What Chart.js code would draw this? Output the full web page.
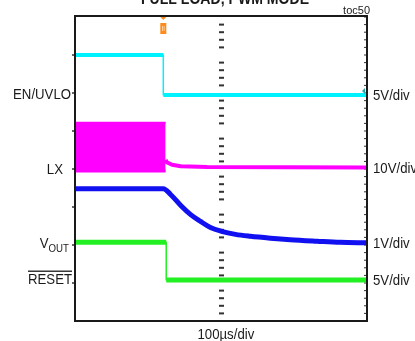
<!DOCTYPE html>
<html>
<head>
<meta charset="UTF-8" />
<title>toc50</title>
<script src="https://cdn.jsdelivr.net/npm/chart.js"></script>
<style>
  *{box-sizing:border-box}
  body{margin:0;background:#fff;}
  #wrap{width:415px;height:341px;}
</style>
</head>
<body>
<div id="wrap"><canvas id="scope" width="415" height="341"></canvas></div>
<script>
  // time axis in divisions (100us/div), voltage in screen divisions
  const enT = [0, 3.0, 3.0, 10];
  const enV = [6.0, 6.0, 4.95, 4.95];

  const lxBandT = [0, 3.08];
  const lxBandHi = [4.22, 4.22];
  const lxBandLo = [2.95, 2.95];
  const lxTailT = [3.08, 3.12, 3.3, 3.6, 4.5, 10];
  const lxTailV = [3.24, 3.18, 3.11, 3.07, 3.05, 3.04];

  const voutT = [0, 3.0, 3.25, 3.6, 3.94, 4.28, 4.62, 5.0, 5.48, 5.99, 6.68, 7.36, 8.29, 9.08, 10];
  const voutV = [2.48, 2.48, 2.33, 2.04, 1.80, 1.62, 1.46, 1.36, 1.28, 1.23, 1.18, 1.14, 1.10, 1.07, 1.06];

  const rstT = [0, 3.1, 3.1, 10];
  const rstV = [1.07, 1.07, 0.08, 0.08];

  const leftLabels = ["EN/UVLO", "LX", "VOUT", "RESET"];
  const leftLevels = [5.0, 3.02, 1.07, 0.13];
  const rightLabels = ["5V/div", "10V/div", "1V/div", "5V/div"];
  const rightLevels = [4.97, 3.05, 1.07, 0.1];
  const trigT = 3.0;

  const zip = (t, v) => t.map((x, i) => ({x: x, y: v[i]}));
  const edgeWidth = (w) => ({borderWidth: c => c.p0.parsed.x === c.p1.parsed.x ? 1.5 : w});

  function txt(ctx, s, x, y, align, size, weight, sx){
    ctx.save();
    ctx.translate(x, y);
    ctx.scale(sx || 0.88, 1);
    ctx.font = (weight || "normal") + " " + size + "px 'Liberation Sans', Arial, sans-serif";
    ctx.textAlign = align;
    ctx.textBaseline = "alphabetic";
    ctx.fillStyle = "#1a1a1a";
    ctx.fillText(s, 0, 0);
    ctx.restore();
  }
  function tw(ctx, s, size){
    ctx.save();
    ctx.font = size + "px 'Liberation Sans', Arial, sans-serif";
    const w = ctx.measureText(s).width * 0.88;
    ctx.restore();
    return w;
  }

  const scopeDeco = {
    id: "scopeDeco",
    beforeDatasetsDraw(chart){
      const {ctx, chartArea: a, scales: {x, y}} = chart;
      ctx.save();
      ctx.fillStyle = "#333";
      const cx = x.getPixelForValue(5);
      for (let k = -5; k <= 35; k++) {
        const py = y.getPixelForValue(k / 5);
        if (k % 5 !== 0) ctx.fillRect(cx - 2.5, py - 1, 5, 2);
        // small graticule ticks inside the right border
        ctx.fillRect(a.right - 3, py - 0.5, 2, 1);
      }
      // left axis ticks
      for (let k = 0; k <= 6; k++) {
        const py = y.getPixelForValue(k);
        ctx.fillRect(a.left - 4, py - 0.75, 3, 1.5);
      }
      ctx.restore();
    },
    afterDatasetsDraw(chart){
      const {ctx, chartArea: a, scales: {x, y}} = chart;
      ctx.save();
      ctx.strokeStyle = "#1a1a1a";
      ctx.lineWidth = 2;
      ctx.strokeRect(a.left - 1, a.top - 1, a.right - a.left + 1, a.bottom - a.top + 1);

      // trigger marker
      const tx = x.getPixelForValue(trigT);
      ctx.fillStyle = "#ff8c1a";
      ctx.beginPath();
      ctx.moveTo(tx - 3, a.top);
      ctx.lineTo(tx + 3, a.top);
      ctx.lineTo(tx, a.top + 3);
      ctx.closePath();
      ctx.fill();
      ctx.fillRect(tx - 3, a.top + 6, 6, 11);
      ctx.fillStyle = "#fff";
      ctx.fillRect(tx - 1, a.top + 9, 2, 5);
      ctx.fillStyle = "#ff8c1a";
      ctx.fillRect(tx - 0.5, a.top + 9, 1, 5);

      // EN channel level marker
      const ey = y.getPixelForValue(5.05);
      ctx.fillStyle = "#2aa6a6";
      ctx.beginPath();
      ctx.moveTo(a.right - 5, ey);
      ctx.lineTo(a.right - 2, ey - 3);
      ctx.lineTo(a.right - 2, ey + 3);
      ctx.closePath();
      ctx.fill();
      ctx.restore();

      // left channel names
      const rx = [71, 63, 69, 72];
      leftLabels.forEach((s, i) => {
        const py = y.getPixelForValue(leftLevels[i]) + 5.5;
        if (s === "VOUT") {
          const wOut = tw(ctx, "OUT", 11);
          txt(ctx, "OUT", rx[i], py + 4, "right", 11);
          txt(ctx, "V", rx[i] - wOut, py, "right", 15);
        } else {
          txt(ctx, s, rx[i], py, "right", 15);
          if (s === "RESET") {
            const w = tw(ctx, s, 15);
            ctx.save();
            ctx.fillStyle = "#1a1a1a";
            ctx.fillRect(rx[i] - w, py - 13, w, 1.3);
            ctx.restore();
          }
        }
      });
      // right scale factors
      rightLabels.forEach((s, i) => {
        const py = y.getPixelForValue(rightLevels[i]) + 5.5;
        txt(ctx, s, a.right + 6, py, "left", 15);
      });
      txt(ctx, "100\u00b5s/div", x.getPixelForValue(5.15), 339, "center", 15);
      txt(ctx, "FULL LOAD, PWM MODE", 225, 3.5, "center", 16, "bold");
      txt(ctx, "toc50", 370, 14, "right", 11, "normal", 1);
    }
  };

  new Chart(document.getElementById("scope"), {
    type: "line",
    data: {
      datasets: [
        {label: "EN/UVLO", data: zip(enT, enV), borderColor: "#00f2ff", borderWidth: 4, segment: edgeWidth(4)},
        {label: "LX hi", data: zip(lxBandT, lxBandHi), borderColor: "#ff00ff", borderWidth: 2, fill: "+1", backgroundColor: "#ff00ff"},
        {label: "LX lo", data: zip(lxBandT, lxBandLo), borderColor: "#ff00ff", borderWidth: 3},
        {label: "LX", data: zip(lxTailT, lxTailV), borderColor: "#ff00ff", borderWidth: 4},
        {label: "VOUT", data: zip(voutT, voutV), borderColor: "#1010f0", borderWidth: 5, cubicInterpolationMode: "monotone"},
        {label: "RESET", data: zip(rstT, rstV), borderColor: "#22f022", borderWidth: 5, segment: edgeWidth(5)}
      ]
    },
    options: {
      responsive: false,
      animation: false,
      devicePixelRatio: 1,
      layout: {padding: {left: 76, right: 48, top: 17, bottom: 20}},
      elements: {point: {radius: 0}, line: {tension: 0, borderJoinStyle: "round"}},
      plugins: {legend: {display: false}, tooltip: {enabled: false}},
      scales: {
        x: {type: "linear", min: 0, max: 10, display: false},
        y: {type: "linear", min: -1, max: 7, display: false}
      }
    },
    plugins: [scopeDeco]
  });
</script>
</body>
</html>
